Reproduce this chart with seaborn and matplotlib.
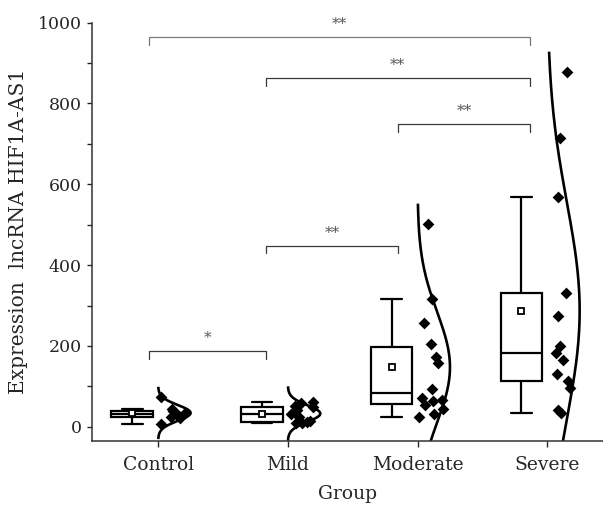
import numpy as np
import pandas as pd
import matplotlib
matplotlib.use("Agg")
import matplotlib.pyplot as plt
from matplotlib.ticker import MultipleLocator
import seaborn as sns

# data
groups = ["Control", "Mild", "Moderate", "Severe"]
control = [7, 22, 25, 30, 35, 38, 44, 74]
mild = [9, 10, 11, 14, 24, 31, 42, 48, 52, 58, 62]
moderate = [25, 32, 44, 54, 64, 67, 72, 94, 158, 173, 205, 257, 317, 502]
severe = [35, 42, 96, 114, 131, 166, 183, 200, 274, 331, 569, 715, 878]
values = [control, mild, moderate, severe]

# significance brackets: left group, right group, height, label
comparisons = [
    ("Control", "Mild", 188, "*"),
    ("Mild", "Moderate", 448, "**"),
    ("Moderate", "Severe", 749, "**"),
    ("Mild", "Severe", 863, "**"),
    ("Control", "Severe", 964, "**"),
]
bracket_anchor = {"Control": -0.07, "Mild": 0.83, "Moderate": 1.85, "Severe": 2.865}

rows = []
for i, (g, vals) in enumerate(zip(groups, values)):
    for v in vals:
        rows.append({"group": g, "idx": i, "value": v})
df = pd.DataFrame(rows)
df["box_pos"] = df["idx"] - 0.2
df["pt_pos"] = df["idx"] + 0.11

sns.set_style("ticks")
plt.rcParams["font.family"] = ["DejaVu Serif"]

fig = plt.figure(figsize=(6.03, 5.12), dpi=100)
ax = fig.add_axes([0.1526, 0.1387, 0.8474, 0.8173])

sns.boxplot(data=df, x="box_pos", y="value", native_scale=True, orient="x",
            width=0.32, color="white", linecolor="black", linewidth=1.6,
            saturation=1, whis=1.5, showfliers=False, showmeans=True,
            meanprops=dict(marker="s", markerfacecolor="white",
                           markeredgecolor="black", markersize=4,
                           markeredgewidth=1.3),
            ax=ax)

np.random.seed(7)
sns.stripplot(data=df, x="pt_pos", y="value", native_scale=True, orient="x",
              jitter=0.1, color="black", marker="D", size=6, linewidth=0,
              ax=ax)

# fitted normal curves to the right of each group
for i, vals in enumerate(values):
    m, s = np.mean(vals), np.std(vals, ddof=1)
    yy = np.linspace(m - 3.3 * s, min(m + 3.3 * s, max(vals) + 50), 300)
    dens = np.exp(-0.5 * ((yy - m) / s) ** 2)
    ax.plot(i + 0.25 * dens, yy, color="black", lw=1.9, solid_capstyle="butt")

# brackets
drop = 19
for k, (a, b, h, lab) in enumerate(comparisons):
    x1, x2 = bracket_anchor[a], bracket_anchor[b]
    col = "#7a7a7a" if k == len(comparisons) - 1 else "#3a3a3a"
    ax.plot([x1, x1, x2, x2], [h - drop, h, h, h - drop], color=col, lw=0.9)
    ax.text((x1 + x2) / 2, h + 14, lab, ha="center", va="bottom",
            fontsize=11, color="#555555")

ax.set_xlim(-0.51, 3.43)
ax.set_ylim(-35, 1000)
ax.set_xticks(range(len(groups)))
ax.set_xticklabels(groups, fontsize=13.5)
ax.yaxis.set_major_locator(MultipleLocator(200))
ax.yaxis.set_minor_locator(MultipleLocator(100))
ax.tick_params(axis="y", labelsize=12.5, length=3.5, width=1, direction="out", pad=4)
ax.tick_params(axis="y", which="minor", length=3.5, width=1)
ax.tick_params(axis="x", length=4, width=1, direction="out", pad=7)
ax.set_xlabel("Group", fontsize=13.5, labelpad=8)
ax.set_ylabel("Expression  lncRNA HIF1A-AS1", fontsize=14.5, labelpad=7)

sns.despine(ax=ax)
for sp in ["left", "bottom"]:
    ax.spines[sp].set_linewidth(1.1)
    ax.spines[sp].set_color("#333333")

fig.savefig("out.png", dpi=100)
